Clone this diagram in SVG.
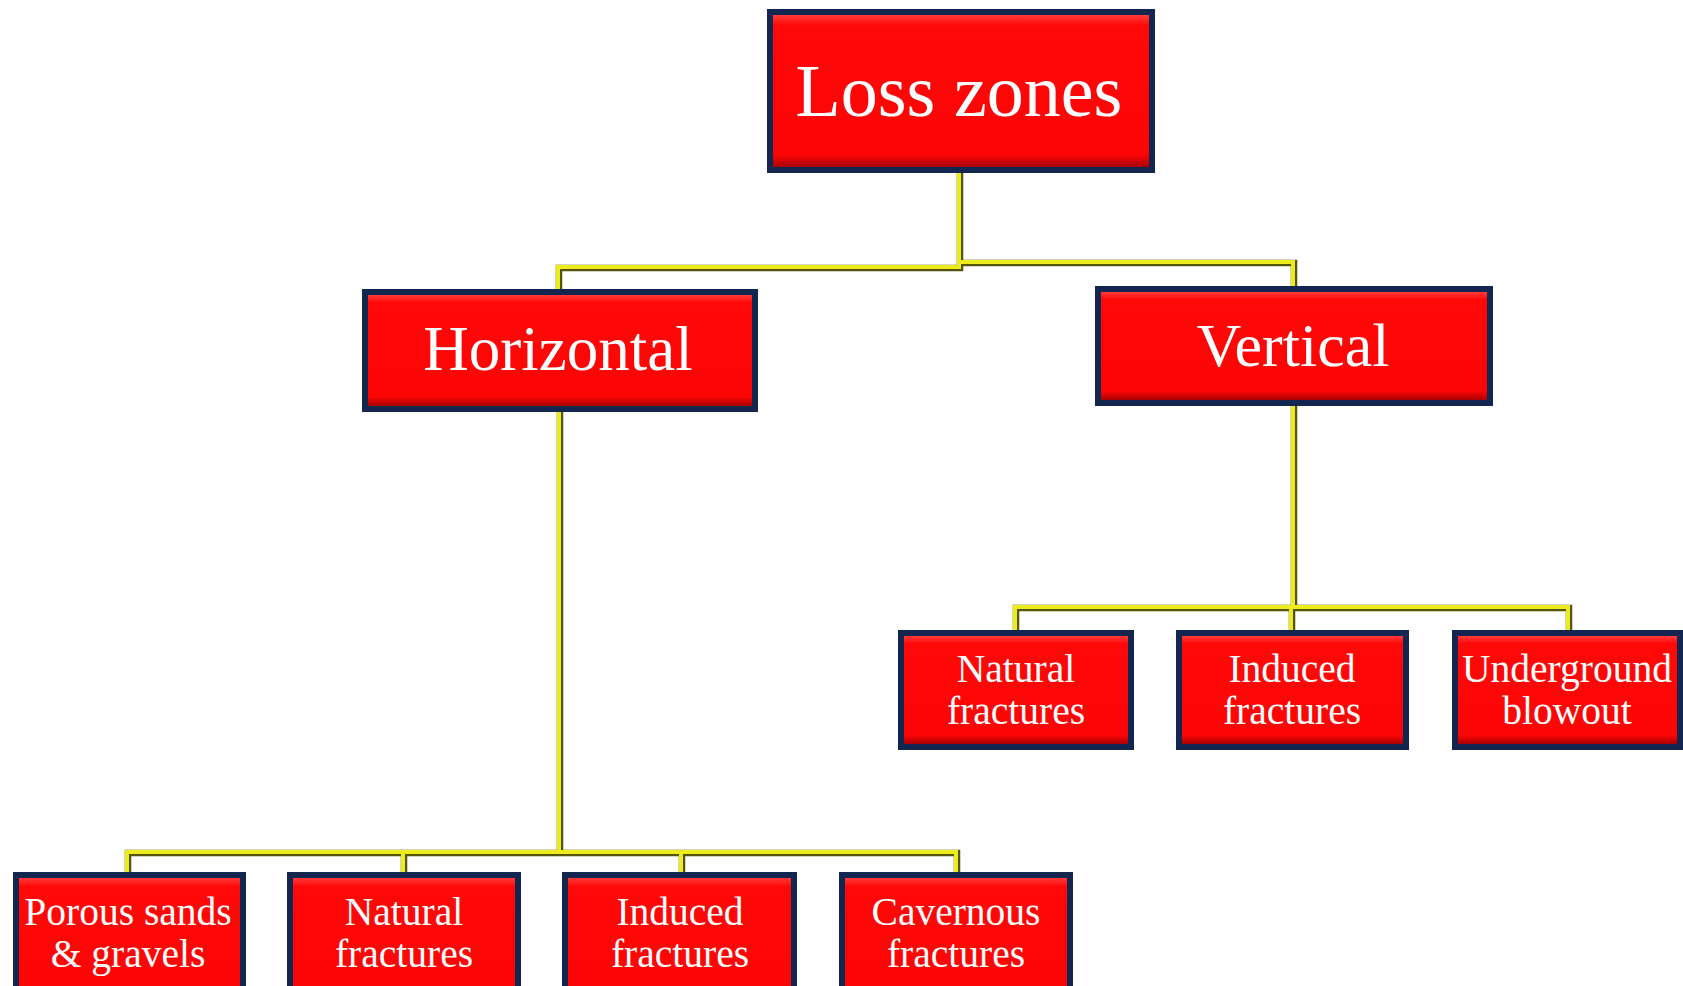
<svg xmlns="http://www.w3.org/2000/svg" width="1683" height="986" viewBox="0 0 1683 986">
<style>
.b{fill:#13264f}
.f{fill:url(#rg)}
.t{font-family:"Liberation Serif","Times New Roman",serif;fill:#fff;text-anchor:middle}
.s{font-size:39.5px}
.c1{fill:none;stroke:#55550a;stroke-width:6.5;stroke-linejoin:miter}
.c2{fill:none;stroke:#ecec1c;stroke-width:4;stroke-linejoin:miter}
</style>
<defs>
<linearGradient id="rg" x1="0" y1="0" x2="0" y2="1">
<stop offset="0" stop-color="#ff3a3a"/>
<stop offset="0.07" stop-color="#ff0808"/>
<stop offset="0.92" stop-color="#fb0505"/>
<stop offset="1" stop-color="#a80000"/>
</linearGradient>
</defs>
<rect width="1683" height="986" fill="#fff"/>
<g id="connectors">
<path class="c1" d="M960 173V268H559V289M960 263H1294V286M560 412V853H128V872M560 853H957V872M404 853V872M682 853V872M1294 406V608H1016V630M1294 608H1569V630M1292 608V630"/>
<path class="c2" d="M959 173V267H558V289M959 262H1293V286M559 412V852H127V872M559 852H956V872M403 852V872M681 852V872M1293 406V607H1015V630M1293 607H1568V630M1291 607V630"/>
</g>
<g id="root">
<rect class="b" x="767" y="9" width="388" height="164"/>
<rect class="f" x="773" y="15" width="376" height="152"/>
<text class="t" x="959" y="116" font-size="74">Loss zones</text>
</g>
<g id="horizontal">
<rect class="b" x="362" y="289" width="396" height="123"/>
<rect class="f" x="368" y="295" width="384" height="111"/>
<text class="t" x="558" y="370" font-size="63">Horizontal</text>
</g>
<g id="vertical">
<rect class="b" x="1095" y="286" width="398" height="120"/>
<rect class="f" x="1101" y="292" width="386" height="108"/>
<text class="t" x="1293" y="366" font-size="62">Vertical</text>
</g>
<g id="v-natural">
<rect class="b" x="898" y="630" width="236" height="120"/>
<rect class="f" x="904" y="636" width="224" height="108"/>
<text class="t s" x="1016" y="682">Natural</text>
<text class="t s" x="1016" y="724">fractures</text>
</g>
<g id="v-induced">
<rect class="b" x="1176" y="630" width="233" height="120"/>
<rect class="f" x="1182" y="636" width="221" height="108"/>
<text class="t s" x="1292" y="682">Induced</text>
<text class="t s" x="1292" y="724">fractures</text>
</g>
<g id="v-underground">
<rect class="b" x="1452" y="630" width="231" height="120"/>
<rect class="f" x="1458" y="636" width="219" height="108"/>
<text class="t s" x="1567" y="682">Underground</text>
<text class="t s" x="1567" y="724">blowout</text>
</g>
<g id="h-porous">
<rect class="b" x="13" y="872" width="233" height="120"/>
<rect class="f" x="19" y="878" width="221" height="120"/>
<text class="t s" x="128" y="925">Porous sands</text>
<text class="t s" x="128" y="967">&amp; gravels</text>
</g>
<g id="h-natural">
<rect class="b" x="287" y="872" width="234" height="120"/>
<rect class="f" x="293" y="878" width="222" height="120"/>
<text class="t s" x="404" y="925">Natural</text>
<text class="t s" x="404" y="967">fractures</text>
</g>
<g id="h-induced">
<rect class="b" x="562" y="872" width="235" height="120"/>
<rect class="f" x="568" y="878" width="223" height="120"/>
<text class="t s" x="680" y="925">Induced</text>
<text class="t s" x="680" y="967">fractures</text>
</g>
<g id="h-cavernous">
<rect class="b" x="839" y="872" width="234" height="120"/>
<rect class="f" x="845" y="878" width="222" height="120"/>
<text class="t s" x="956" y="925">Cavernous</text>
<text class="t s" x="956" y="967">fractures</text>
</g>
</svg>
